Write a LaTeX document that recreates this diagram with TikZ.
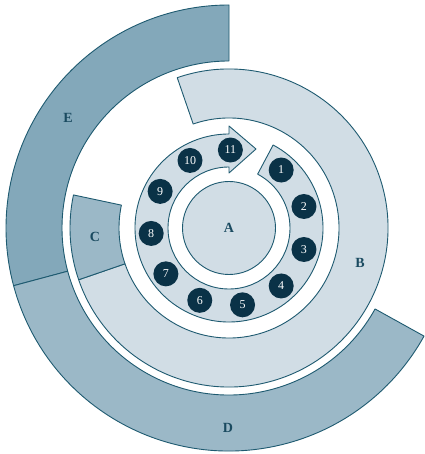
\documentclass[tikz,border=0pt]{standalone}
\usepackage{fontspec}
\setmainfont{Liberation Serif}
\definecolor{strokec}{HTML}{1E5A70}
\definecolor{lightf}{HTML}{D1DDE5}
\definecolor{midf}{HTML}{9BB8C7}
\definecolor{darkf}{HTML}{83A8BA}
\definecolor{dotf}{HTML}{0A3247}
\definecolor{labc}{HTML}{1A4A60}
\begin{document}
\begin{tikzpicture}[x=1pt,y=1pt,line join=round,
  shapeline/.style={draw=strokec,line width=0.9pt},
  numc/.style={circle,fill=dotf,minimum size=25pt,inner sep=0pt,text=white,font=\fontsize{12}{12}\selectfont},
  lab/.style={text=labc,font=\fontsize{14}{14}\selectfont\bfseries}]
\useasboundingbox (-229,-226) rectangle (195,228);
% E
\filldraw[shapeline,fill=darkf] (90:167) -- (90:223) arc[start angle=90,end angle=195,radius=223] -- (195:167) arc[start angle=195,end angle=90,radius=167] -- cycle;
% D
\filldraw[shapeline,fill=midf] (195:167) -- (195:223) arc[start angle=195,end angle=331,radius=223] -- (331:167) arc[start angle=331,end angle=195,radius=167] -- cycle;
% B
\filldraw[shapeline,fill=lightf] (109:110) -- (109:159) arc[start angle=109,end angle=-161,radius=159] -- (-161:110) arc[start angle=-161,end angle=109,radius=110] -- cycle;
% C
\filldraw[shapeline,fill=midf] (199:110) -- (199:159) arc[start angle=199,end angle=168,radius=159] -- (168:110) arc[start angle=168,end angle=199,radius=110] -- cycle;
% numbered arrow ring
\filldraw[shapeline,fill=lightf] (62:61) -- (62:94) arc[start angle=62,end angle=-270,radius=94] -- (90:102) -- (27,79) -- (90:55) -- (90:61) arc[start angle=-270,end angle=62,radius=61] -- cycle;
% A
\filldraw[shapeline,fill=lightf] (0,0) circle (46.5);
% numbered dots
\foreach \k/\a in {1/48,2/16,3/-16,4/-48,5/-80,6/-112,7/-144,8/-176,9/152,10/120,11/89}
  \node[numc] (n\k) at (\a:78) {\k};
% labels
\node[lab] (la) at (0,0) {A};
\node[lab] (lb) at (131,-35) {B};
\node[lab] (lc) at (-134,-9) {C};
\node[lab] (ld) at (-1,-200) {D};
\node[lab] (le) at (-161,110) {E};
\end{tikzpicture}
\end{document}
